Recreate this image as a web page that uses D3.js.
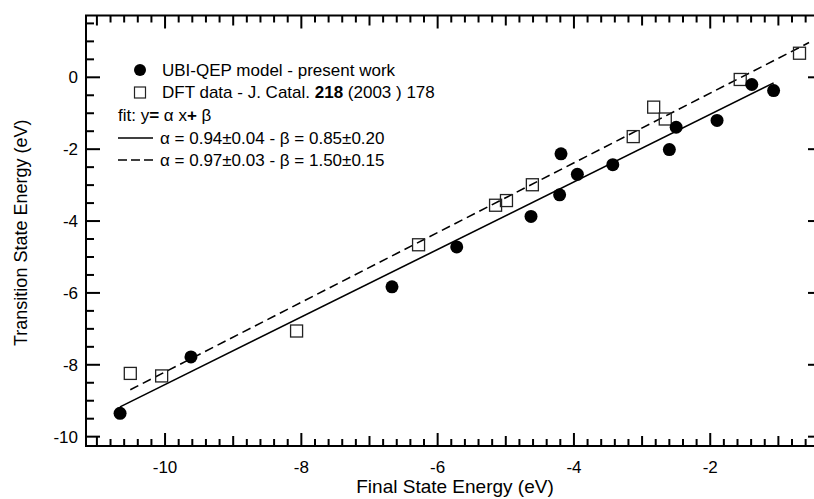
<!DOCTYPE html>
<html>
<head>
<meta charset="utf-8">
<script src="https://cdn.jsdelivr.net/npm/d3@7"></script>
<style>
  body { margin: 0; background: #fff; }
  text { font-family: "Liberation Sans", Arial, sans-serif; fill: #000; }
</style>
</head>
<body>
<script>
// UBI-QEP model points (final state energy, transition state energy)
var ubiX = [-10.66, -9.62, -6.67, -5.72, -4.63, -4.21, -4.19, -3.95, -3.43, -2.60, -2.50, -1.90, -1.39, -1.07];
var ubiY = [-9.35, -7.78, -5.83, -4.72, -3.87, -3.27, -2.13, -2.70, -2.43, -2.01, -1.39, -1.20, -0.20, -0.37];

// DFT data points
var dftX = [-10.51, -10.05, -8.07, -6.28, -5.15, -4.99, -4.61, -3.13, -2.83, -2.66, -1.56, -0.69];
var dftY = [-8.24, -8.31, -7.06, -4.66, -3.56, -3.43, -2.99, -1.65, -0.83, -1.16, -0.06, 0.67];

// linear fits y = a x + b, drawn over [x0, x1]
var fitSolid = { a: 0.94, b: 0.85, x0: -10.66, x1: -1.07 };
var fitDashed = { a: 0.97, b: 1.50, x0: -10.51, x1: -0.55 };

var xMajor = [-10, -8, -6, -4, -2];
var yMajor = [-10, -8, -6, -4, -2, 0];

var width = 814, height = 499;

var svg = d3.select("body").append("svg")
            .attr("width", width)
            .attr("height", height);

var x = d3.scaleLinear().domain([-11.16, -0.36]).range([86, 822]);
var y = d3.scaleLinear().domain([-10.26, 1.72]).range([446, 15.5]);

var pLeft = x.range()[0], pRight = x.range()[1];
var pTop = y.range()[1], pBottom = y.range()[0];

// ticks (all pointing inward)
var xMinor = d3.range(-11.0, -0.35, 0.2).map(function (d) { return Math.round(d * 10) / 10; });
var yMinor = d3.range(-10, 1.75, 0.5);

function xLen(d) {
  if (Math.abs(d % 2) < 1e-6) return 13;
  if (Math.abs(d % 1) < 1e-6) return 10;
  return 7;
}
function yLen(d) {
  if (Math.abs(d % 2) < 1e-6) return 14;
  return 8;
}

var ticks = svg.append("g").attr("stroke", "#000").attr("stroke-width", 2);

ticks.selectAll(".xb").data(xMinor).enter().append("line")
     .attr("x1", function (d) { return x(d); })
     .attr("x2", function (d) { return x(d); })
     .attr("y1", pBottom)
     .attr("y2", function (d) { return pBottom - xLen(d); });

ticks.selectAll(".xt").data(xMinor).enter().append("line")
     .attr("x1", function (d) { return x(d); })
     .attr("x2", function (d) { return x(d); })
     .attr("y1", pTop)
     .attr("y2", function (d) { return pTop + xLen(d); });

ticks.selectAll(".yl").data(yMinor).enter().append("line")
     .attr("y1", function (d) { return y(d); })
     .attr("y2", function (d) { return y(d); })
     .attr("x1", pLeft)
     .attr("x2", function (d) { return pLeft + yLen(d); });

ticks.selectAll(".yr").data(yMinor).enter().append("line")
     .attr("y1", function (d) { return y(d); })
     .attr("y2", function (d) { return y(d); })
     .attr("x1", pRight)
     .attr("x2", function (d) { return pRight - yLen(d); });

// frame
svg.append("rect")
   .attr("x", pLeft).attr("y", pTop)
   .attr("width", pRight - pLeft).attr("height", pBottom - pTop)
   .attr("fill", "none").attr("stroke", "#000").attr("stroke-width", 2);

// tick labels
svg.selectAll(".xlab").data(xMajor).enter().append("text")
   .attr("x", function (d) { return x(d); })
   .attr("y", pBottom + 27)
   .attr("text-anchor", "middle")
   .style("font-size", "17px")
   .text(function (d) { return d; });

svg.selectAll(".ylab").data(yMajor).enter().append("text")
   .attr("x", pLeft - 8)
   .attr("y", function (d) { return y(d) + 6; })
   .attr("text-anchor", "end")
   .style("font-size", "17px")
   .text(function (d) { return d; });

// axis titles
svg.append("text")
   .attr("x", 455)
   .attr("y", 493)
   .attr("text-anchor", "middle")
   .style("font-size", "19px")
   .text("Final State Energy (eV)");

svg.append("text")
   .attr("transform", "translate(27," + ((pTop + pBottom) / 2 + 2) + ") rotate(-90)")
   .attr("text-anchor", "middle")
   .style("font-size", "18px")
   .text("Transition State Energy (eV)");

// fit lines
function fitLine(f) {
  return [[f.x0, f.a * f.x0 + f.b], [f.x1, f.a * f.x1 + f.b]];
}
var line = d3.line().x(function (d) { return x(d[0]); }).y(function (d) { return y(d[1]); });

svg.append("path").attr("d", line(fitLine(fitSolid)))
   .attr("fill", "none").attr("stroke", "#000").attr("stroke-width", 1.6);

svg.append("path").attr("d", line(fitLine(fitDashed)))
   .attr("fill", "none").attr("stroke", "#000").attr("stroke-width", 1.6)
   .attr("stroke-dasharray", "9,5");

// DFT squares
svg.selectAll(".dft").data(dftX).enter().append("rect")
   .attr("x", function (d) { return x(d) - 6; })
   .attr("y", function (d, i) { return y(dftY[i]) - 6; })
   .attr("width", 12).attr("height", 12)
   .attr("fill", "none").attr("stroke", "#222").attr("stroke-width", 1.3);

// UBI-QEP circles
svg.selectAll(".ubi").data(ubiX).enter().append("circle")
   .attr("cx", function (d) { return x(d); })
   .attr("cy", function (d, i) { return y(ubiY[i]); })
   .attr("r", 6.5)
   .attr("fill", "#000");

// legend
var lg = svg.append("g");
lg.append("circle").attr("cx", 140).attr("cy", 70).attr("r", 6).attr("fill", "#000");
lg.append("text").attr("x", 162).attr("y", 76).style("font-size", "17px")
  .text("UBI-QEP model - present work");

lg.append("rect").attr("x", 134.5).attr("y", 87).attr("width", 11).attr("height", 11)
  .attr("fill", "none").attr("stroke", "#222").attr("stroke-width", 1.2);
var t2 = lg.append("text").attr("x", 162).attr("y", 98).style("font-size", "17px");
t2.append("tspan").text("DFT data - J. Catal. ");
t2.append("tspan").style("font-weight", "bold").text("218");
t2.append("tspan").text(" (2003 ) 178");

var t3 = lg.append("text").attr("x", 118).attr("y", 121).style("font-size", "17px");
t3.append("tspan").text("fit: y");
t3.append("tspan").style("font-weight", "bold").text("=");
t3.append("tspan").text(" \u03b1 x");
t3.append("tspan").style("font-weight", "bold").text("+");
t3.append("tspan").text(" \u03b2");

lg.append("line").attr("x1", 118).attr("x2", 153).attr("y1", 138).attr("y2", 138)
  .attr("stroke", "#000").attr("stroke-width", 1.6);
lg.append("text").attr("x", 160).attr("y", 144).style("font-size", "17px")
  .text("\u03b1 = 0.94\u00b10.04 - \u03b2 = 0.85\u00b10.20");

lg.append("line").attr("x1", 118).attr("x2", 153).attr("y1", 160).attr("y2", 160)
  .attr("stroke", "#000").attr("stroke-width", 1.6).attr("stroke-dasharray", "9,4");
lg.append("text").attr("x", 160).attr("y", 166).style("font-size", "17px")
  .text("\u03b1 = 0.97\u00b10.03 - \u03b2 = 1.50\u00b10.15");
</script>
</body>
</html>
